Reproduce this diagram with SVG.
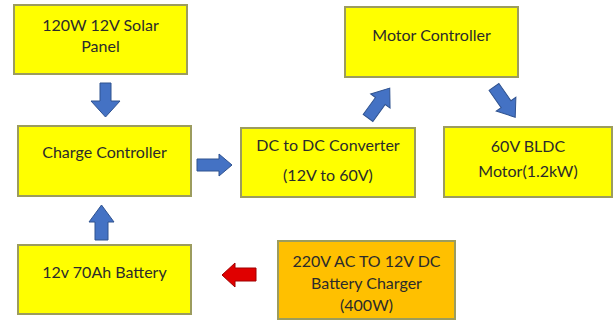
<svg xmlns="http://www.w3.org/2000/svg" width="615" height="322" viewBox="0 0 615 322">
<style>
.box{fill:#FFFF00;stroke:#9C9C5E;stroke-width:2}
.orange{fill:#FFC000;stroke:#9C9C5E;stroke-width:2}
text{font-family:"Lato","Liberation Sans",sans-serif;font-size:16px;fill:#2B2B2B;text-anchor:middle}
.blue{fill:#4472C4;stroke:#2F528F;stroke-width:1}
.red{fill:#E00000;stroke:#A00000;stroke-width:1}
</style>
<rect width="615" height="322" fill="#FFFFFF"/>
<g id="solar">
<rect class="box" x="14" y="5" width="173" height="69"/>
<text x="100.5" y="31">120W 12V Solar</text>
<text x="100.5" y="52">Panel</text>
</g>
<g id="charge">
<rect class="box" x="18" y="126" width="173" height="70"/>
<text x="104.5" y="158">Charge Controller</text>
</g>
<g id="dcdc">
<rect class="box" x="241" y="128" width="174" height="69"/>
<text x="328" y="151">DC to DC Converter</text>
<text x="328" y="181">(12V to 60V)</text>
</g>
<g id="motorctrl">
<rect class="box" x="345" y="7" width="173" height="70"/>
<text x="431.5" y="41">Motor Controller</text>
</g>
<g id="bldc">
<rect class="box" x="444" y="127" width="168" height="70"/>
<text x="528" y="152">60V BLDC</text>
<text x="528" y="177">Motor(1.2kW)</text>
</g>
<g id="battery">
<rect class="box" x="18" y="245" width="173" height="69"/>
<text x="104.5" y="278">12v 70Ah Battery</text>
</g>
<g id="charger">
<rect class="orange" x="278" y="241" width="177" height="78"/>
<text x="366.5" y="267">220V AC TO 12V DC</text>
<text x="366.5" y="289">Battery Charger</text>
<text x="366.5" y="311">(400W)</text>
</g>
<g id="connectors">
<polygon class="blue" points="100,83 111,83 111,101 120,101 105.5,117 91,101 100,101"/>
<polygon class="blue" points="197,159 219,159 219,154 232,165 219,176 219,171 197,171"/>
<polygon class="blue" points="95,240 95,222 89,222 101.5,205 114,222 108,222 108,240"/>
<polygon class="red" points="256,268 235,268 235,263 222,275 235,287 235,281 256,281"/>
<polygon class="blue" transform="translate(368,118) rotate(-54)" points="0,-6 21,-6 21,-12 37,0 21,12 21,6 0,6"/>
<polygon class="blue" transform="translate(494,87) rotate(55)" points="0,-6 21,-6 21,-12 37,0 21,12 21,6 0,6"/>
</g>
</svg>
